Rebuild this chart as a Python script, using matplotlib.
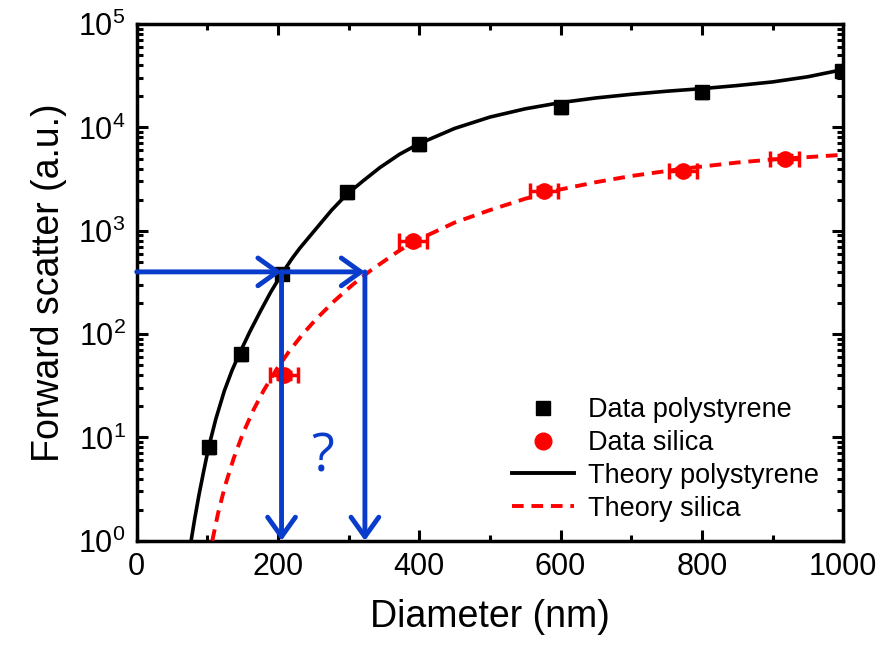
"""
Forward scatter vs particle diameter, polystyrene and silica.
"""

import matplotlib
matplotlib.use('Agg')
import matplotlib.pyplot as plt
from matplotlib.lines import Line2D
from matplotlib.ticker import LogLocator, MultipleLocator, NullFormatter

plt.rcParams['font.family'] = ['Liberation Sans', 'DejaVu Sans']
plt.rcParams['mathtext.fontset'] = 'custom'
plt.rcParams['mathtext.rm'] = 'Liberation Sans'
plt.rcParams['mathtext.it'] = 'Liberation Sans:italic'
plt.rcParams['mathtext.bf'] = 'Liberation Sans:bold'

# Measured data
ps_d = [102, 147, 205, 297, 399, 600, 800, 998]
ps_fsc = [8.1, 64, 385, 2350, 6900, 15600, 22000, 35000]
ps_derr = [6, 6, 6, 6, 6, 6, 6, 6]
ps_ferr = [1.0, 8, 45, 280, 850, 1900, 2700, 4200]

si_d = [208, 391, 577, 773, 917]
si_fsc = [40, 790, 2450, 3800, 5000]
si_derr = [20, 20, 20, 20, 20]
si_ferr = [3, 60, 180, 280, 350]

# Theory curves
th_ps_d = [77, 82, 88, 95, 102, 112, 124, 135, 146, 160, 175, 190, 206, 220, 231, 252, 276,
           297, 320, 344, 372, 399, 450, 500, 550, 600, 650, 700, 750, 800, 850, 900, 950, 1000]
th_ps_fsc = [1.0, 1.62, 2.75, 4.79, 8.13, 15.1, 28.2, 44.7, 66.1, 105, 166, 257, 389, 540,
             680, 1010, 1585, 2239, 3020, 4074, 5495, 6918, 9772, 12589, 15136, 17378,
             19275, 20893, 22387, 23714, 25410, 27542, 30903, 36308]

th_si_d = [107, 115, 125, 137, 150, 165, 180, 198, 215, 235, 255, 280, 305, 330, 368, 391,
           450, 500, 550, 600, 650, 700, 773, 850, 900, 1000]
th_si_fsc = [1.0, 1.83, 3.39, 6.2, 10.8, 18.3, 28.7, 45.7, 67, 100, 142, 210, 298, 407,
             618, 776, 1200, 1585, 2042, 2512, 2951, 3388, 3981, 4571, 4898, 5433]

# Guide arrows
guide_level = 400
guide_d = [0, 205, 323]

blue = '#0a3ccc'

fig = plt.figure(figsize=(8.82, 6.5), dpi=100)
ax = fig.add_axes([0.155, 0.168, 0.801, 0.795])

ax.plot(th_ps_d, th_ps_fsc, color='black', lw=2.6, zorder=3)
ax.plot(th_si_d, th_si_fsc, color='#ff0000', lw=2.8, ls=(0, (3, 2)), zorder=3)

ax.errorbar(ps_d, ps_fsc, xerr=ps_derr, yerr=ps_ferr, fmt='s', color='black', ms=10,
            elinewidth=2.5, capsize=4, capthick=2.5, zorder=5)
ax.errorbar(si_d, si_fsc, xerr=si_derr, yerr=si_ferr, fmt='o', color='#ff0000', ms=11,
            elinewidth=2.5, capsize=6, capthick=2.5, zorder=5)

arrow = dict(arrowstyle='->,head_length=0.7,head_width=0.5', color=blue, lw=3.5,
             shrinkA=0, shrinkB=0, mutation_scale=20)
ax.annotate('', xy=(guide_d[1], guide_level), xytext=(guide_d[0], guide_level), arrowprops=arrow, zorder=6)
ax.annotate('', xy=(guide_d[2], guide_level), xytext=(guide_d[1], guide_level), arrowprops=arrow, zorder=6)
ax.annotate('', xy=(guide_d[1], 1), xytext=(guide_d[1], guide_level), arrowprops=arrow, zorder=6)
ax.annotate('', xy=(guide_d[2], 1), xytext=(guide_d[2], guide_level), arrowprops=arrow, zorder=6)
ax.text(263, 6.3, '?', color=blue, fontsize=38, ha='center', va='center', family=['Open Sans', 'DejaVu Sans'])

ax.set_xlim(0, 1000)
ax.set_ylim(1, 1e5)
ax.set_yscale('log')

ax.xaxis.set_major_locator(MultipleLocator(200))
ax.xaxis.set_minor_locator(MultipleLocator(100))
ax.yaxis.set_major_locator(LogLocator(base=10, numticks=10))
ax.yaxis.set_minor_locator(LogLocator(base=10, subs=range(2, 10), numticks=20))
ax.yaxis.set_minor_formatter(NullFormatter())

ax.tick_params(which='both', direction='in', top=True, right=True, width=2.2, labelsize=22)
ax.tick_params(which='major', length=8, pad=8)
ax.tick_params(which='minor', length=4)
for sp in ax.spines.values():
    sp.set_linewidth(2.5)

ax.set_xlabel('Diameter (nm)', fontsize=27, labelpad=12)
ax.set_ylabel('Forward scatter (a.u.)', fontsize=27, labelpad=8)

handles = [
    Line2D([], [], marker='s', color='black', ls='none', ms=10),
    Line2D([], [], marker='o', color='#ff0000', ls='none', ms=12),
    Line2D([], [], color='black', lw=2.8),
    Line2D([], [], color='#ff0000', lw=2.8, ls=(0, (3, 2))),
]
labels = ['Data polystyrene', 'Data silica', 'Theory polystyrene', 'Theory silica']
ax.legend(handles, labels, loc='lower right', bbox_to_anchor=(1.0, -0.01), frameon=False,
          fontsize=19.5, handlelength=2.3, handletextpad=0.5, labelspacing=0.25)

fig.savefig('out.png', dpi=100)
